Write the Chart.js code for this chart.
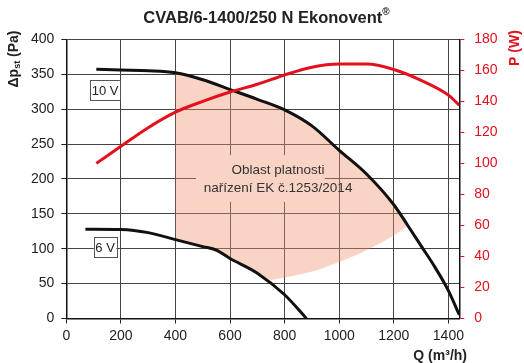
<!DOCTYPE html>
<html>
<head>
<meta charset="utf-8">
<script src="https://cdn.jsdelivr.net/npm/chart.js@4.4.0/dist/chart.umd.min.js"></script>
<style>
body { margin: 0; background: #fff; }
#wrap { width: 524px; height: 363px; position: relative; }
</style>
</head>
<body>
<div id="wrap"><canvas id="fanChart"></canvas></div>
<script>
const chartTitle = 'CVAB/6-1400/250 N Ekonovent';
const areaText = ['Oblast platnosti', 'nařízení EK č.1253/2014'];
const curveNames = ['10 V', '6 V'];
const xTicks = [0, 200, 400, 600, 800, 1000, 1200, 1400];

// 10 V pressure curve (Pa)
const q10 = [110, 200, 300, 400, 500, 600, 700, 800, 900, 1000, 1100, 1200, 1250, 1300, 1350, 1400, 1440];
const p10 = [357, 356, 355, 352, 342, 328, 314, 299, 276, 241, 207, 163, 134, 104, 74, 40, 5];

// 6 V pressure curve (Pa)
const q6 = [70, 200, 300, 400, 500, 550, 600, 700, 800, 880];
const p6 = [128, 127.5, 123, 113, 103, 98, 86, 65, 34, 0];

// power input at 10 V (W)
const qPow = [110, 200, 300, 400, 500, 600, 700, 800, 900, 1000, 1100, 1200, 1300, 1400, 1440];
const wPow = [100, 111, 123, 133, 140, 146, 151, 157, 162, 164, 164, 160.5, 153.5, 144, 137.5];

// area where the regulation applies
const shadeQ = [400, 500, 600, 700, 800, 900, 1000, 1100, 1200, 1250, 1200, 1160, 1080, 1000, 920, 830, 750, 700, 600, 500, 400];
const shadeP = [352, 342, 328, 314, 299, 276, 241, 207, 163, 132, 119, 110, 94, 81, 69, 61, 55, 65, 86, 103, 113];

function pts(xs, ys) {
    return xs.map((x, i) => ({ x: x, y: ys[i] }));
}

const red = '#e5101d';
const peach = 'rgb(249,211,195)';
const font = "'Liberation Sans', Arial, sans-serif";
Chart.defaults.font.family = font;

const overlay = {
    id: 'overlay',
    afterDatasetsDraw(chart) {
        const ctx = chart.ctx;
        const sx = chart.scales.x, sy = chart.scales.y;
        ctx.save();

        // box behind the area text
        const bx = sx.getPixelForValue(475), bx2 = sx.getPixelForValue(947);
        const by = sy.getPixelForValue(234), by2 = sy.getPixelForValue(167);
        ctx.fillStyle = peach;
        ctx.fillRect(bx, by, bx2 - bx, by2 - by);
        ctx.fillStyle = '#333';
        ctx.font = '13.5px ' + font;
        ctx.textAlign = 'center';
        ctx.textBaseline = 'middle';
        ctx.fillText(areaText[0], sx.getPixelForValue(776), sy.getPixelForValue(212.5));
        ctx.fillText(areaText[1], sx.getPixelForValue(776), sy.getPixelForValue(186.5));

        // voltage labels
        const lab = [[142, 327], [142, 102]];
        ctx.font = '13px ' + font;
        curveNames.forEach((t, i) => {
            const cx = sx.getPixelForValue(lab[i][0]);
            const cy = sy.getPixelForValue(lab[i][1]);
            const w = ctx.measureText(t).width + 3;
            ctx.fillStyle = '#fff';
            ctx.fillRect(cx - w / 2, cy - 10, w, 20);
            ctx.strokeStyle = '#555';
            ctx.lineWidth = 1;
            ctx.strokeRect(Math.round(cx - w / 2) + 0.5, Math.round(cy - 10) + 0.5, Math.round(w), 20);
            ctx.fillStyle = '#222';
            ctx.fillText(t, cx, cy + 1);
        });

        // title
        ctx.font = 'bold 16.5px ' + font;
        const tw = ctx.measureText(chartTitle).width;
        ctx.font = 'bold 10px ' + font;
        const rw = ctx.measureText('®').width;
        const tx = 266.5 - (tw + rw) / 2;
        ctx.textAlign = 'left';
        ctx.fillStyle = '#222';
        ctx.font = 'bold 16.5px ' + font;
        ctx.fillText(chartTitle, tx, 18.5);
        ctx.font = 'bold 10px ' + font;
        ctx.fillText('®', tx + tw, 12.5);

        // left axis title with subscript
        ctx.save();
        ctx.translate(14, 59);
        ctx.rotate(-Math.PI / 2);
        ctx.font = 'bold 14px ' + font;
        const w1 = ctx.measureText('Δp').width;
        const w3 = ctx.measureText(' (Pa)').width;
        ctx.font = 'bold 9px ' + font;
        const w2 = ctx.measureText('st').width;
        let px = -(w1 + w2 + w3) / 2;
        ctx.font = 'bold 14px ' + font;
        ctx.fillText('Δp', px, 0);
        ctx.font = 'bold 9px ' + font;
        ctx.fillText('st', px + w1, 4);
        ctx.font = 'bold 14px ' + font;
        ctx.fillText(' (Pa)', px + w1 + w2, 0);
        ctx.restore();

        // right axis title
        ctx.save();
        ctx.translate(515, 48);
        ctx.rotate(-Math.PI / 2);
        ctx.textAlign = 'center';
        ctx.fillStyle = red;
        ctx.font = 'bold 14px ' + font;
        ctx.fillText('P (W)', 0, 0);
        ctx.restore();

        // x axis title
        ctx.textAlign = 'right';
        ctx.fillStyle = '#222';
        ctx.font = 'bold 14px ' + font;
        ctx.fillText('Q (m³/h)', 467, 356.5);

        ctx.restore();
    }
};

const ctx = document.getElementById('fanChart');

var chartData = {
    datasets: [{
        label: 'area',
        data: pts(shadeQ, shadeP),
        showLine: true,
        fill: 'shape',
        backgroundColor: 'rgba(240,145,105,0.4)',
        borderWidth: 0,
        pointRadius: 0,
        tension: 0,
        yAxisID: 'y',
        order: 10
    }, {
        label: '10 V',
        data: pts(q10, p10),
        showLine: true,
        borderColor: '#111',
        borderWidth: 3,
        pointRadius: 0,
        cubicInterpolationMode: 'monotone',
        yAxisID: 'y',
        order: 2
    }, {
        label: '6 V',
        data: pts(q6, p6),
        showLine: true,
        borderColor: '#111',
        borderWidth: 3,
        pointRadius: 0,
        cubicInterpolationMode: 'monotone',
        yAxisID: 'y',
        order: 2
    }, {
        label: 'P',
        data: pts(qPow, wPow),
        showLine: true,
        borderColor: red,
        borderWidth: 3,
        pointRadius: 0,
        cubicInterpolationMode: 'monotone',
        yAxisID: 'y1',
        order: 1
    }]
};

var chartOptions = {
    responsive: true,
    maintainAspectRatio: false,
    animation: false,
    layout: { padding: { top: 39.3, left: 0, right: 0, bottom: 0 } },
    plugins: {
        legend: { display: false },
        tooltip: { enabled: false },
        title: { display: false }
    },
    scales: {
        x: {
            type: 'linear',
            min: 0,
            max: 1440,
            afterFit: s => { s.height = 44.5; },
            afterBuildTicks: s => { s.ticks = xTicks.map(v => ({ value: v })); },
            ticks: { autoSkip: false, color: '#222', font: { size: 14 }, padding: 4, maxRotation: 0, callback: v => String(v) },
            grid: { color: '#444', lineWidth: 1, tickLength: 5, tickColor: '#222' },
            border: { color: '#111', width: 1.5 }
        },
        y: {
            position: 'left',
            min: 0,
            max: 400,
            afterFit: s => { s.width = 66.3; },
            ticks: { stepSize: 50, color: '#222', font: { size: 14 }, padding: 7, callback: v => String(v) },
            grid: { color: '#444', lineWidth: 1, tickLength: 5, tickColor: '#222' },
            border: { color: '#111', width: 1.5 }
        },
        y1: {
            position: 'right',
            min: 0,
            max: 180,
            afterFit: s => { s.width = 64.7; },
            ticks: { stepSize: 20, color: red, font: { size: 14 }, padding: 10, callback: v => String(v) },
            grid: { drawOnChartArea: false, tickLength: 5, tickColor: red, color: red },
            border: { color: '#111', width: 1.5 }
        }
    }
};

var fanChart = new Chart(ctx, {
    type: 'scatter',
    data: chartData,
    options: chartOptions,
    plugins: [overlay]
});
</script>
</body>
</html>
